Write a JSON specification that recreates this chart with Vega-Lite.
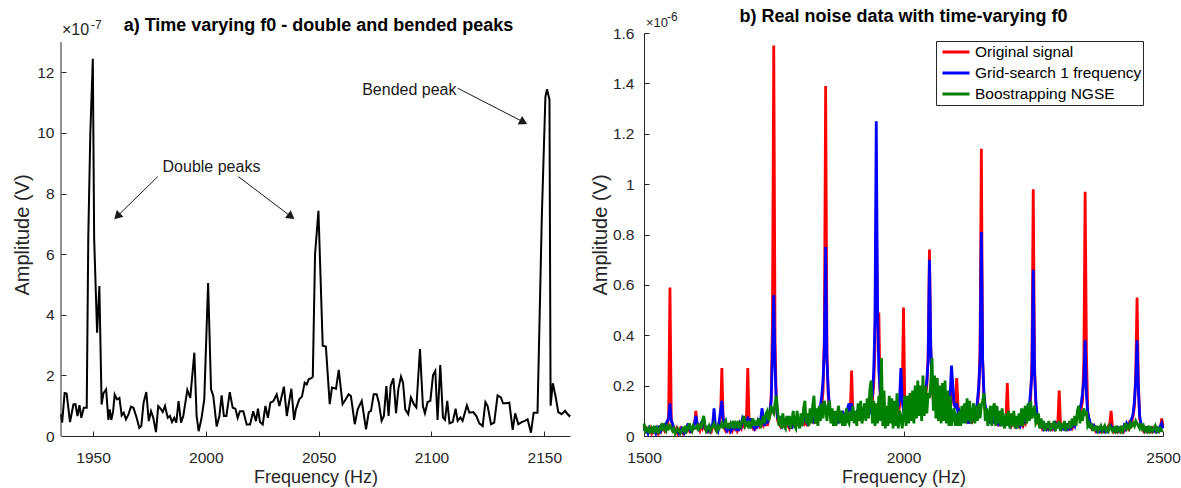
{
"$schema":"https://vega.github.io/schema/vega-lite/v6.json",
"background":"white",
"padding":{"left":12,"top":8,"right":5,"bottom":0},
"bounds":"flush",
"spacing":74,
"config":{
"view":{"stroke":null},
"font":"Liberation Sans",
"axis":{"domainColor":"#262626","tickColor":"#262626","labelColor":"#262626","titleColor":"#262626","labelFont":"Liberation Sans","titleFont":"Liberation Sans","labelFontSize":15.5,"titleFontSize":18,"titleFontWeight":"normal","grid":false,"tickSize":-5,"labelFlush":false,"labelOverlap":false},
"axisX":{"labelPadding":19,"titlePadding":3,"titleFontSize":18,"format":"d"},
"axisY":{"labelPadding":12,"titlePadding":4,"titleFontSize":20},
"title":{"font":"Liberation Sans","fontSize":18,"fontWeight":"bold","color":"#000000","anchor":"middle","frame":"group","baseline":"alphabetic"}
},
"datasets":{
"L":[{"f":1935.8,"v":0.72},{"f":1936.3,"v":0.44},{"f":1937.4,"v":1.42},{"f":1938.3,"v":1.4},{"f":1939.8,"v":0.46},{"f":1941.3,"v":1.04},{"f":1942.2,"v":1.05},{"f":1943.1,"v":0.66},{"f":1944,"v":1.02},{"f":1944.8,"v":0.6},{"f":1945.9,"v":0.93},{"f":1947.2,"v":0.93},{"f":1947.9,"v":6.6},{"f":1948.8,"v":10},{"f":1949.9,"v":12.45},{"f":1950.5,"v":6.5},{"f":1951.8,"v":3.41},{"f":1952.8,"v":4.95},{"f":1953.8,"v":1.04},{"f":1954.6,"v":1.41},{"f":1955.8,"v":1.54},{"f":1956.8,"v":0.53},{"f":1957.4,"v":0.88},{"f":1958.1,"v":0.53},{"f":1958.9,"v":0.82},{"f":1959.6,"v":1.37},{"f":1960.6,"v":1.21},{"f":1961.7,"v":1.26},{"f":1962.7,"v":0.68},{"f":1963.6,"v":0.77},{"f":1964.6,"v":0.55},{"f":1965.7,"v":0.71},{"f":1966.8,"v":0.97},{"f":1967.9,"v":0.93},{"f":1969.1,"v":0.66},{"f":1970.5,"v":0.27},{"f":1971.4,"v":0.33},{"f":1972.4,"v":1.1},{"f":1973.6,"v":1.45},{"f":1974.7,"v":0.49},{"f":1975.7,"v":0.82},{"f":1976.7,"v":0.6},{"f":1977.9,"v":0.13},{"f":1978.9,"v":0.99},{"f":1980,"v":0.9},{"f":1980.9,"v":0.79},{"f":1981.9,"v":0.99},{"f":1983.1,"v":0.6},{"f":1984.1,"v":0.66},{"f":1985,"v":0.46},{"f":1986,"v":0.6},{"f":1986.9,"v":0.44},{"f":1987.9,"v":1.15},{"f":1989,"v":0.44},{"f":1990,"v":0.66},{"f":1991.8,"v":1.52},{"f":1993.1,"v":1.26},{"f":1994.9,"v":2.75},{"f":1995.9,"v":0.66},{"f":1996.8,"v":0.16},{"f":1998,"v":0.55},{"f":1999.3,"v":1.21},{"f":2001,"v":5.05},{"f":2002.3,"v":1.54},{"f":2003.3,"v":1.32},{"f":2004.8,"v":0.31},{"f":2006,"v":0.66},{"f":2007,"v":1.34},{"f":2008,"v":0.66},{"f":2009.1,"v":0.66},{"f":2010.6,"v":1.45},{"f":2011.9,"v":0.93},{"f":2013.1,"v":0.9},{"f":2014.1,"v":0.6},{"f":2015.1,"v":0.82},{"f":2016.6,"v":0.82},{"f":2018.1,"v":0.38},{"f":2019.6,"v":0.38},{"f":2021,"v":0.82},{"f":2022.2,"v":0.49},{"f":2023.1,"v":0.9},{"f":2024,"v":0.46},{"f":2025.2,"v":0.38},{"f":2026.4,"v":0.99},{"f":2027.5,"v":0.6},{"f":2028.6,"v":1.1},{"f":2029.9,"v":1.15},{"f":2031.4,"v":1.37},{"f":2032.6,"v":0.99},{"f":2034.6,"v":1.63},{"f":2035.9,"v":0.66},{"f":2036.7,"v":1.04},{"f":2037.9,"v":1.56},{"f":2039.1,"v":0.53},{"f":2039.9,"v":0.88},{"f":2041.4,"v":1.21},{"f":2042.6,"v":1.3},{"f":2043.8,"v":1.76},{"f":2044.7,"v":1.7},{"f":2045.6,"v":1.87},{"f":2047,"v":1.92},{"f":2047.4,"v":1.96},{"f":2048.4,"v":6},{"f":2049.9,"v":7.43},{"f":2051.8,"v":2.98},{"f":2053.2,"v":2.95},{"f":2054.9,"v":1.05},{"f":2055.9,"v":1.6},{"f":2057.7,"v":1.56},{"f":2058.9,"v":2.18},{"f":2060.6,"v":1.05},{"f":2062,"v":1.21},{"f":2063.3,"v":1.38},{"f":2064.3,"v":1.32},{"f":2066,"v":0.39},{"f":2067.3,"v":0.88},{"f":2069.1,"v":1.16},{"f":2071,"v":0.22},{"f":2072.2,"v":0.79},{"f":2073.2,"v":0.83},{"f":2074.4,"v":1.38},{"f":2075.7,"v":1.38},{"f":2076.7,"v":1.1},{"f":2077.9,"v":0.5},{"f":2078.9,"v":0.66},{"f":2080,"v":1.65},{"f":2081,"v":0.66},{"f":2081.9,"v":1.65},{"f":2083.1,"v":1.9},{"f":2084.3,"v":0.75},{"f":2085.3,"v":1.54},{"f":2086.5,"v":1.96},{"f":2087.4,"v":1.76},{"f":2088.4,"v":0.88},{"f":2089.7,"v":0.72},{"f":2090.9,"v":1.27},{"f":2092.2,"v":1.05},{"f":2093.3,"v":0.94},{"f":2094.9,"v":2.87},{"f":2096.2,"v":0.99},{"f":2097.1,"v":0.75},{"f":2098.3,"v":1.12},{"f":2099.5,"v":1.16},{"f":2100.7,"v":2.01},{"f":2101.7,"v":2.15},{"f":2102.7,"v":0.53},{"f":2103.9,"v":2.34},{"f":2105.1,"v":0.61},{"f":2106,"v":0.53},{"f":2107,"v":1.16},{"f":2108,"v":0.42},{"f":2109.4,"v":0.46},{"f":2110.7,"v":0.9},{"f":2111.6,"v":0.5},{"f":2112.8,"v":0.61},{"f":2113.8,"v":0.5},{"f":2115.7,"v":1.01},{"f":2116.8,"v":0.77},{"f":2118.5,"v":0.79},{"f":2119.9,"v":0.66},{"f":2121.2,"v":0.42},{"f":2122.7,"v":0.33},{"f":2123.9,"v":1.12},{"f":2124.9,"v":0.99},{"f":2126.4,"v":0.39},{"f":2127.8,"v":0.44},{"f":2129.3,"v":1.34},{"f":2130.8,"v":1.27},{"f":2131.7,"v":1.08},{"f":2133,"v":1.08},{"f":2134.5,"v":1.1},{"f":2136,"v":0.2},{"f":2137.1,"v":0.75},{"f":2138.5,"v":0.39},{"f":2140,"v":0.46},{"f":2141.4,"v":0.5},{"f":2142.6,"v":0.55},{"f":2144.1,"v":0.11},{"f":2145.3,"v":0.77},{"f":2147,"v":0.77},{"f":2148.9,"v":7.2},{"f":2150.5,"v":11.2},{"f":2151.2,"v":11.44},{"f":2152.3,"v":11.1},{"f":2152.8,"v":1},{"f":2153.8,"v":1.74},{"f":2155.1,"v":1.27},{"f":2156.2,"v":0.79},{"f":2157.7,"v":0.72},{"f":2159.2,"v":0.83},{"f":2160,"v":0.75},{"f":2161.1,"v":0.66},{"f":2161.4,"v":0.7}],
"R":[
{"f":1500,"r":0.04,"b":0.02,"g":0.05},{"f":1502.5,"r":0.02,"b":0.03,"g":0.02},{"f":1505,"r":0.03,"b":0.02,"g":0.03},{"f":1507.5,"r":0.02,"b":0.01,"g":0.02},{"f":1510,"r":0.02,"b":0.03,"g":0.03},{"f":1512.5,"r":0.03,"b":0.02,"g":0.01},{"f":1515,"r":0.01,"b":0.02,"g":0.03},{"f":1517.5,"r":0.02,"b":0.03,"g":0.02},{"f":1520,"r":0.03,"b":0.02,"g":0.04},{"f":1522.5,"r":0.02,"b":0.01,"g":0.02},
{"f":1525,"r":0.02,"b":0.03,"g":0.03},{"f":1527.5,"r":0.01,"b":0.02,"g":0.01},{"f":1530,"r":0.03,"b":0.04,"g":0.03},{"f":1532.5,"r":0.02,"b":0.02,"g":0.04},{"f":1535,"r":0.04,"b":0.03,"g":0.02},{"f":1537.5,"r":0.03,"b":0.04,"g":0.05},{"f":1540,"r":0.02,"b":0.03,"g":0.03},{"f":1542.5,"r":0.03,"b":0.05,"g":0.02},{"f":1545,"r":0.04,"b":0.06,"g":0.04},{"f":1547.5,"r":0.08,"b":0.07,"g":0.03},
{"f":1550,"r":0.59,"b":0.13,"g":0.04},{"f":1552.5,"r":0.07,"b":0.06,"g":0.03},{"f":1555,"r":0.04,"b":0.05,"g":0.02},{"f":1557.5,"r":0.02,"b":0.03,"g":0.03},{"f":1560,"r":0.02,"b":0.02,"g":0.01},{"f":1562.5,"r":0.03,"b":0.02,"g":0.02},{"f":1565,"r":0.01,"b":0.02,"g":0.03},{"f":1567.5,"r":0.02,"b":0.01,"g":0.02},{"f":1570,"r":0.03,"b":0.02,"g":0.01},{"f":1572.5,"r":0.02,"b":0.03,"g":0.02},
{"f":1575,"r":0.01,"b":0.02,"g":0.03},{"f":1577.5,"r":0.02,"b":0.01,"g":0.02},{"f":1580,"r":0.03,"b":0.02,"g":0.04},{"f":1582.5,"r":0.02,"b":0.03,"g":0.02},{"f":1585,"r":0.03,"b":0.05,"g":0.03},{"f":1587.5,"r":0.02,"b":0.03,"g":0.05},{"f":1590,"r":0.03,"b":0.02,"g":0.03},{"f":1592.5,"r":0.02,"b":0.03,"g":0.02},{"f":1595,"r":0.04,"b":0.03,"g":0.04},{"f":1597.5,"r":0.05,"b":0.05,"g":0.03},
{"f":1600,"r":0.1,"b":0.08,"g":0.03},{"f":1602.5,"r":0.04,"b":0.05,"g":0.04},{"f":1605,"r":0.03,"b":0.03,"g":0.02},{"f":1607.5,"r":0.02,"b":0.04,"g":0.05},{"f":1610,"r":0.04,"b":0.05,"g":0.03},{"f":1612.5,"r":0.03,"b":0.04,"g":0.06},{"f":1615,"r":0.05,"b":0.07,"g":0.08},{"f":1617.5,"r":0.03,"b":0.04,"g":0.04},{"f":1620,"r":0.02,"b":0.03,"g":0.02},{"f":1622.5,"r":0.03,"b":0.02,"g":0.03},
{"f":1625,"r":0.02,"b":0.03,"g":0.04},{"f":1627.5,"r":0.03,"b":0.02,"g":0.02},{"f":1630,"r":0.02,"b":0.04,"g":0.03},{"f":1632.5,"r":0.04,"b":0.05,"g":0.04},{"f":1635,"r":0.06,"b":0.11,"g":0.05},{"f":1637.5,"r":0.03,"b":0.04,"g":0.03},{"f":1640,"r":0.02,"b":0.03,"g":0.02},{"f":1642.5,"r":0.03,"b":0.02,"g":0.04},{"f":1645,"r":0.05,"b":0.06,"g":0.03},{"f":1647.5,"r":0.08,"b":0.1,"g":0.04},
{"f":1650,"r":0.27,"b":0.14,"g":0.05},{"f":1652.5,"r":0.06,"b":0.07,"g":0.03},{"f":1655,"r":0.03,"b":0.04,"g":0.05},{"f":1657.5,"r":0.02,"b":0.03,"g":0.06},{"f":1660,"r":0.03,"b":0.02,"g":0.03},{"f":1662.5,"r":0.04,"b":0.03,"g":0.05},{"f":1665,"r":0.02,"b":0.04,"g":0.03},{"f":1667.5,"r":0.03,"b":0.02,"g":0.05},{"f":1670,"r":0.02,"b":0.03,"g":0.04},{"f":1672.5,"r":0.04,"b":0.03,"g":0.06},
{"f":1675,"r":0.03,"b":0.05,"g":0.03},{"f":1677.5,"r":0.04,"b":0.03,"g":0.05},{"f":1680,"r":0.02,"b":0.04,"g":0.04},{"f":1682.5,"r":0.03,"b":0.02,"g":0.06},{"f":1685,"r":0.04,"b":0.05,"g":0.03},{"f":1687.5,"r":0.03,"b":0.04,"g":0.05},{"f":1690,"r":0.05,"b":0.07,"g":0.06},{"f":1692.5,"r":0.04,"b":0.06,"g":0.08},{"f":1695,"r":0.07,"b":0.05,"g":0.04},{"f":1697.5,"r":0.08,"b":0.06,"g":0.05},
{"f":1700,"r":0.27,"b":0.07,"g":0.04},{"f":1702.5,"r":0.05,"b":0.06,"g":0.06},{"f":1705,"r":0.07,"b":0.05,"g":0.03},{"f":1707.5,"r":0.04,"b":0.07,"g":0.05},{"f":1710,"r":0.03,"b":0.04,"g":0.07},{"f":1712.5,"r":0.04,"b":0.03,"g":0.04},{"f":1715,"r":0.03,"b":0.05,"g":0.06},{"f":1717.5,"r":0.04,"b":0.03,"g":0.04},{"f":1720,"r":0.05,"b":0.06,"g":0.07},{"f":1722.5,"r":0.04,"b":0.05,"g":0.05},
{"f":1725,"r":0.06,"b":0.07,"g":0.04},{"f":1727.5,"r":0.05,"b":0.11,"g":0.06},{"f":1730,"r":0.04,"b":0.06,"g":0.08},{"f":1732.5,"r":0.05,"b":0.04,"g":0.05},{"f":1735,"r":0.06,"b":0.08,"g":0.09},{"f":1737.5,"r":0.04,"b":0.05,"g":0.1},{"f":1740,"r":0.06,"b":0.07,"g":0.06},{"f":1742.5,"r":0.08,"b":0.09,"g":0.08},{"f":1745,"r":0.15,"b":0.14,"g":0.12},{"f":1747.5,"r":0.45,"b":0.32,"g":0.1},
{"f":1750,"r":1.55,"b":0.56,"g":0.09},{"f":1752.5,"r":0.38,"b":0.28,"g":0.13},{"f":1755,"r":0.12,"b":0.13,"g":0.16},{"f":1757.5,"r":0.06,"b":0.07,"g":0.1},{"f":1760,"r":0.05,"b":0.06,"g":0.04},{"f":1762.5,"r":0.04,"b":0.05,"g":0.08},{"f":1765,"r":0.06,"b":0.04,"g":0.03},{"f":1767.5,"r":0.05,"b":0.07,"g":0.09},{"f":1770,"r":0.04,"b":0.05,"g":0.04},{"f":1772.5,"r":0.06,"b":0.04,"g":0.03},
{"f":1775,"r":0.05,"b":0.06,"g":0.08},{"f":1777.5,"r":0.04,"b":0.05,"g":0.04},{"f":1780,"r":0.03,"b":0.04,"g":0.08},{"f":1782.5,"r":0.05,"b":0.06,"g":0.03},{"f":1785,"r":0.04,"b":0.03,"g":0.06},{"f":1787.5,"r":0.06,"b":0.05,"g":0.1},{"f":1790,"r":0.05,"b":0.07,"g":0.04},{"f":1792.5,"r":0.04,"b":0.05,"g":0.03},{"f":1795,"r":0.06,"b":0.08,"g":0.1},{"f":1797.5,"r":0.05,"b":0.06,"g":0.05},
{"f":1800,"r":0.07,"b":0.05,"g":0.03},{"f":1802.5,"r":0.05,"b":0.07,"g":0.09},{"f":1805,"r":0.06,"b":0.05,"g":0.04},{"f":1807.5,"r":0.04,"b":0.06,"g":0.11},{"f":1810,"r":0.06,"b":0.08,"g":0.14},{"f":1812.5,"r":0.05,"b":0.06,"g":0.05},{"f":1815,"r":0.07,"b":0.05,"g":0.09},{"f":1817.5,"r":0.05,"b":0.07,"g":0.04},{"f":1820,"r":0.06,"b":0.09,"g":0.11},{"f":1822.5,"r":0.08,"b":0.06,"g":0.05},
{"f":1825,"r":0.06,"b":0.08,"g":0.12},{"f":1827.5,"r":0.07,"b":0.06,"g":0.16},{"f":1830,"r":0.05,"b":0.07,"g":0.05},{"f":1832.5,"r":0.08,"b":0.1,"g":0.11},{"f":1835,"r":0.06,"b":0.08,"g":0.04},{"f":1837.5,"r":0.09,"b":0.11,"g":0.12},{"f":1840,"r":0.08,"b":0.12,"g":0.06},{"f":1842.5,"r":0.12,"b":0.16,"g":0.13},{"f":1845,"r":0.18,"b":0.22,"g":0.07},{"f":1847.5,"r":0.4,"b":0.35,"g":0.14},
{"f":1850,"r":1.39,"b":0.75,"g":0.11},{"f":1852.5,"r":0.32,"b":0.3,"g":0.06},{"f":1855,"r":0.16,"b":0.18,"g":0.12},{"f":1857.5,"r":0.09,"b":0.11,"g":0.14},{"f":1860,"r":0.07,"b":0.09,"g":0.05},{"f":1862.5,"r":0.06,"b":0.08,"g":0.11},{"f":1865,"r":0.08,"b":0.06,"g":0.04},{"f":1867.5,"r":0.06,"b":0.09,"g":0.1},{"f":1870,"r":0.07,"b":0.05,"g":0.04},{"f":1872.5,"r":0.05,"b":0.07,"g":0.09},
{"f":1875,"r":0.08,"b":0.06,"g":0.12},{"f":1877.5,"r":0.06,"b":0.08,"g":0.05},{"f":1880,"r":0.09,"b":0.07,"g":0.1},{"f":1882.5,"r":0.07,"b":0.1,"g":0.04},{"f":1885,"r":0.06,"b":0.08,"g":0.09},{"f":1887.5,"r":0.08,"b":0.06,"g":0.04},{"f":1890,"r":0.07,"b":0.09,"g":0.11},{"f":1892.5,"r":0.09,"b":0.11,"g":0.06},{"f":1895,"r":0.12,"b":0.13,"g":0.05},{"f":1897.5,"r":0.1,"b":0.09,"g":0.1},
{"f":1900,"r":0.26,"b":0.13,"g":0.06},{"f":1902.5,"r":0.08,"b":0.07,"g":0.12},{"f":1905,"r":0.06,"b":0.09,"g":0.05},{"f":1907.5,"r":0.08,"b":0.06,"g":0.1},{"f":1910,"r":0.07,"b":0.09,"g":0.04},{"f":1912.5,"r":0.1,"b":0.08,"g":0.13},{"f":1915,"r":0.08,"b":0.11,"g":0.06},{"f":1917.5,"r":0.06,"b":0.09,"g":0.14},{"f":1920,"r":0.09,"b":0.07,"g":0.05},{"f":1922.5,"r":0.08,"b":0.1,"g":0.08},
{"f":1925,"r":0.11,"b":0.09,"g":0.13},{"f":1927.5,"r":0.09,"b":0.12,"g":0.06},{"f":1930,"r":0.1,"b":0.08,"g":0.15},{"f":1932.5,"r":0.08,"b":0.11,"g":0.07},{"f":1935,"r":0.12,"b":0.1,"g":0.18},{"f":1937.5,"r":0.1,"b":0.13,"g":0.22},{"f":1940,"r":0.14,"b":0.16,"g":0.05},{"f":1942.5,"r":0.2,"b":0.25,"g":0.14},{"f":1945,"r":0.35,"b":0.45,"g":0.04},{"f":1947.5,"r":0.9,"b":1.25,"g":0.13},
{"f":1950,"r":0.45,"b":0.5,"g":0.05},{"f":1952.5,"r":0.49,"b":0.26,"g":0.16},{"f":1955,"r":0.15,"b":0.18,"g":0.06},{"f":1957.5,"r":0.12,"b":0.14,"g":0.31},{"f":1960,"r":0.1,"b":0.09,"g":0.04},{"f":1962.5,"r":0.07,"b":0.08,"g":0.18},{"f":1965,"r":0.09,"b":0.11,"g":0.03},{"f":1967.5,"r":0.06,"b":0.08,"g":0.12},{"f":1970,"r":0.1,"b":0.07,"g":0.04},{"f":1972.5,"r":0.08,"b":0.1,"g":0.16},
{"f":1975,"r":0.06,"b":0.08,"g":0.05},{"f":1977.5,"r":0.09,"b":0.07,"g":0.15},{"f":1980,"r":0.07,"b":0.09,"g":0.03},{"f":1982.5,"r":0.1,"b":0.08,"g":0.14},{"f":1985,"r":0.08,"b":0.11,"g":0.04},{"f":1987.5,"r":0.11,"b":0.09,"g":0.17},{"f":1990,"r":0.09,"b":0.12,"g":0.03},{"f":1992.5,"r":0.12,"b":0.15,"g":0.1},{"f":1995,"r":0.14,"b":0.27,"g":0.08},{"f":1997.5,"r":0.16,"b":0.14,"g":0.03},
{"f":2000,"r":0.51,"b":0.1,"g":0.08},{"f":2002.5,"r":0.12,"b":0.08,"g":0.16},{"f":2005,"r":0.08,"b":0.1,"g":0.04},{"f":2007.5,"r":0.1,"b":0.09,"g":0.16},{"f":2010,"r":0.07,"b":0.11,"g":0.05},{"f":2012.5,"r":0.09,"b":0.08,"g":0.17},{"f":2015,"r":0.11,"b":0.1,"g":0.06},{"f":2017.5,"r":0.08,"b":0.12,"g":0.18},{"f":2020,"r":0.1,"b":0.09,"g":0.05},{"f":2022.5,"r":0.12,"b":0.11,"g":0.2},
{"f":2025,"r":0.09,"b":0.13,"g":0.07},{"f":2027.5,"r":0.11,"b":0.1,"g":0.22},{"f":2030,"r":0.13,"b":0.12,"g":0.08},{"f":2032.5,"r":0.1,"b":0.14,"g":0.2},{"f":2035,"r":0.12,"b":0.11,"g":0.06},{"f":2037.5,"r":0.14,"b":0.13,"g":0.24},{"f":2040,"r":0.12,"b":0.15,"g":0.08},{"f":2042.5,"r":0.16,"b":0.18,"g":0.2},{"f":2045,"r":0.2,"b":0.22,"g":0.09},{"f":2047.5,"r":0.32,"b":0.3,"g":0.17},
{"f":2050,"r":0.74,"b":0.7,"g":0.15},{"f":2052.5,"r":0.35,"b":0.36,"g":0.21},{"f":2055,"r":0.2,"b":0.2,"g":0.31},{"f":2057.5,"r":0.14,"b":0.16,"g":0.1},{"f":2060,"r":0.12,"b":0.14,"g":0.24},{"f":2062.5,"r":0.1,"b":0.12,"g":0.07},{"f":2065,"r":0.13,"b":0.11,"g":0.23},{"f":2067.5,"r":0.11,"b":0.13,"g":0.06},{"f":2070,"r":0.14,"b":0.12,"g":0.2},{"f":2072.5,"r":0.12,"b":0.15,"g":0.05},
{"f":2075,"r":0.1,"b":0.13,"g":0.21},{"f":2077.5,"r":0.13,"b":0.11,"g":0.06},{"f":2080,"r":0.11,"b":0.14,"g":0.22},{"f":2082.5,"r":0.14,"b":0.12,"g":0.05},{"f":2085,"r":0.12,"b":0.15,"g":0.18},{"f":2087.5,"r":0.15,"b":0.13,"g":0.04},{"f":2090,"r":0.13,"b":0.17,"g":0.16},{"f":2092.5,"r":0.18,"b":0.28,"g":0.04},{"f":2095,"r":0.16,"b":0.2,"g":0.08},{"f":2097.5,"r":0.12,"b":0.13,"g":0.11},
{"f":2100,"r":0.14,"b":0.11,"g":0.04},{"f":2102.5,"r":0.23,"b":0.13,"g":0.09},{"f":2105,"r":0.12,"b":0.09,"g":0.04},{"f":2107.5,"r":0.08,"b":0.1,"g":0.1},{"f":2110,"r":0.1,"b":0.08,"g":0.04},{"f":2112.5,"r":0.07,"b":0.09,"g":0.12},{"f":2115,"r":0.09,"b":0.07,"g":0.05},{"f":2117.5,"r":0.06,"b":0.08,"g":0.13},{"f":2120,"r":0.08,"b":0.06,"g":0.05},{"f":2122.5,"r":0.06,"b":0.08,"g":0.15},
{"f":2125,"r":0.07,"b":0.05,"g":0.06},{"f":2127.5,"r":0.05,"b":0.07,"g":0.14},{"f":2130,"r":0.07,"b":0.06,"g":0.05},{"f":2132.5,"r":0.06,"b":0.08,"g":0.08},{"f":2135,"r":0.08,"b":0.07,"g":0.13},{"f":2137.5,"r":0.07,"b":0.09,"g":0.05},{"f":2140,"r":0.09,"b":0.1,"g":0.12},{"f":2142.5,"r":0.12,"b":0.14,"g":0.06},{"f":2145,"r":0.18,"b":0.2,"g":0.13},{"f":2147.5,"r":0.34,"b":0.3,"g":0.07},
{"f":2150,"r":1.14,"b":0.81,"g":0.12},{"f":2152.5,"r":0.3,"b":0.3,"g":0.14},{"f":2155,"r":0.15,"b":0.17,"g":0.17},{"f":2157.5,"r":0.1,"b":0.12,"g":0.06},{"f":2160,"r":0.08,"b":0.09,"g":0.11},{"f":2162.5,"r":0.06,"b":0.08,"g":0.04},{"f":2165,"r":0.07,"b":0.06,"g":0.09},{"f":2167.5,"r":0.05,"b":0.07,"g":0.12},{"f":2170,"r":0.07,"b":0.05,"g":0.04},{"f":2172.5,"r":0.06,"b":0.08,"g":0.11},
{"f":2175,"r":0.08,"b":0.06,"g":0.13},{"f":2177.5,"r":0.06,"b":0.07,"g":0.04},{"f":2180,"r":0.05,"b":0.06,"g":0.12},{"f":2182.5,"r":0.07,"b":0.05,"g":0.05},{"f":2185,"r":0.05,"b":0.07,"g":0.1},{"f":2187.5,"r":0.06,"b":0.05,"g":0.04},{"f":2190,"r":0.04,"b":0.06,"g":0.11},{"f":2192.5,"r":0.06,"b":0.04,"g":0.05},{"f":2195,"r":0.05,"b":0.06,"g":0.03},{"f":2197.5,"r":0.07,"b":0.05,"g":0.09},
{"f":2200,"r":0.21,"b":0.06,"g":0.04},{"f":2202.5,"r":0.06,"b":0.05,"g":0.1},{"f":2205,"r":0.05,"b":0.04,"g":0.03},{"f":2207.5,"r":0.04,"b":0.06,"g":0.09},{"f":2210,"r":0.06,"b":0.05,"g":0.04},{"f":2212.5,"r":0.05,"b":0.07,"g":0.1},{"f":2215,"r":0.04,"b":0.05,"g":0.03},{"f":2217.5,"r":0.06,"b":0.04,"g":0.08},{"f":2220,"r":0.05,"b":0.06,"g":0.03},{"f":2222.5,"r":0.04,"b":0.05,"g":0.09},
{"f":2225,"r":0.06,"b":0.04,"g":0.04},{"f":2227.5,"r":0.05,"b":0.06,"g":0.11},{"f":2230,"r":0.04,"b":0.05,"g":0.04},{"f":2232.5,"r":0.06,"b":0.07,"g":0.1},{"f":2235,"r":0.05,"b":0.06,"g":0.12},{"f":2237.5,"r":0.07,"b":0.08,"g":0.05},{"f":2240,"r":0.08,"b":0.1,"g":0.13},{"f":2242.5,"r":0.1,"b":0.12,"g":0.06},{"f":2245,"r":0.15,"b":0.18,"g":0.14},{"f":2247.5,"r":0.3,"b":0.25,"g":0.07},
{"f":2250,"r":0.98,"b":0.66,"g":0.09},{"f":2252.5,"r":0.28,"b":0.25,"g":0.12},{"f":2255,"r":0.12,"b":0.14,"g":0.05},{"f":2257.5,"r":0.07,"b":0.08,"g":0.06},{"f":2260,"r":0.05,"b":0.06,"g":0.09},{"f":2262.5,"r":0.04,"b":0.05,"g":0.03},{"f":2265,"r":0.05,"b":0.04,"g":0.07},{"f":2267.5,"r":0.03,"b":0.05,"g":0.03},{"f":2270,"r":0.04,"b":0.03,"g":0.06},{"f":2272.5,"r":0.03,"b":0.04,"g":0.02},
{"f":2275,"r":0.04,"b":0.03,"g":0.05},{"f":2277.5,"r":0.03,"b":0.05,"g":0.03},{"f":2280,"r":0.04,"b":0.03,"g":0.06},{"f":2282.5,"r":0.03,"b":0.04,"g":0.02},{"f":2285,"r":0.05,"b":0.03,"g":0.05},{"f":2287.5,"r":0.03,"b":0.04,"g":0.03},{"f":2290,"r":0.04,"b":0.03,"g":0.06},{"f":2292.5,"r":0.03,"b":0.05,"g":0.02},{"f":2295,"r":0.05,"b":0.04,"g":0.05},{"f":2297.5,"r":0.06,"b":0.05,"g":0.03},
{"f":2300,"r":0.18,"b":0.05,"g":0.06},{"f":2302.5,"r":0.05,"b":0.04,"g":0.02},{"f":2305,"r":0.03,"b":0.04,"g":0.05},{"f":2307.5,"r":0.04,"b":0.03,"g":0.03},{"f":2310,"r":0.03,"b":0.04,"g":0.06},{"f":2312.5,"r":0.04,"b":0.03,"g":0.02},{"f":2315,"r":0.03,"b":0.05,"g":0.05},{"f":2317.5,"r":0.04,"b":0.03,"g":0.03},{"f":2320,"r":0.03,"b":0.04,"g":0.06},{"f":2322.5,"r":0.04,"b":0.03,"g":0.03},
{"f":2325,"r":0.03,"b":0.04,"g":0.07},{"f":2327.5,"r":0.04,"b":0.05,"g":0.04},{"f":2330,"r":0.05,"b":0.04,"g":0.08},{"f":2332.5,"r":0.06,"b":0.07,"g":0.04},{"f":2335,"r":0.07,"b":0.08,"g":0.1},{"f":2337.5,"r":0.08,"b":0.1,"g":0.12},{"f":2340,"r":0.09,"b":0.11,"g":0.05},{"f":2342.5,"r":0.11,"b":0.13,"g":0.1},{"f":2345,"r":0.14,"b":0.17,"g":0.06},{"f":2347.5,"r":0.3,"b":0.22,"g":0.11},
{"f":2350,"r":0.97,"b":0.38,"g":0.08},{"f":2352.5,"r":0.32,"b":0.16,"g":0.1},{"f":2355,"r":0.1,"b":0.09,"g":0.04},{"f":2357.5,"r":0.06,"b":0.07,"g":0.05},{"f":2360,"r":0.04,"b":0.05,"g":0.03},{"f":2362.5,"r":0.03,"b":0.04,"g":0.05},{"f":2365,"r":0.04,"b":0.03,"g":0.02},{"f":2367.5,"r":0.03,"b":0.04,"g":0.04},{"f":2370,"r":0.02,"b":0.03,"g":0.02},{"f":2372.5,"r":0.03,"b":0.02,"g":0.04},
{"f":2375,"r":0.02,"b":0.03,"g":0.02},{"f":2377.5,"r":0.03,"b":0.02,"g":0.03},{"f":2380,"r":0.02,"b":0.03,"g":0.04},{"f":2382.5,"r":0.03,"b":0.02,"g":0.02},{"f":2385,"r":0.02,"b":0.03,"g":0.03},{"f":2387.5,"r":0.03,"b":0.02,"g":0.04},{"f":2390,"r":0.02,"b":0.03,"g":0.02},{"f":2392.5,"r":0.03,"b":0.02,"g":0.03},{"f":2395,"r":0.04,"b":0.03,"g":0.02},{"f":2397.5,"r":0.05,"b":0.03,"g":0.04},
{"f":2400,"r":0.1,"b":0.04,"g":0.03},{"f":2402.5,"r":0.04,"b":0.03,"g":0.02},{"f":2405,"r":0.02,"b":0.03,"g":0.03},{"f":2407.5,"r":0.03,"b":0.02,"g":0.02},{"f":2410,"r":0.02,"b":0.03,"g":0.04},{"f":2412.5,"r":0.03,"b":0.02,"g":0.02},{"f":2415,"r":0.02,"b":0.03,"g":0.03},{"f":2417.5,"r":0.03,"b":0.02,"g":0.02},{"f":2420,"r":0.02,"b":0.03,"g":0.04},{"f":2422.5,"r":0.03,"b":0.02,"g":0.02},
{"f":2425,"r":0.02,"b":0.04,"g":0.03},{"f":2427.5,"r":0.03,"b":0.03,"g":0.05},{"f":2430,"r":0.04,"b":0.05,"g":0.03},{"f":2432.5,"r":0.03,"b":0.04,"g":0.04},{"f":2435,"r":0.05,"b":0.04,"g":0.03},{"f":2437.5,"r":0.04,"b":0.06,"g":0.05},{"f":2440,"r":0.06,"b":0.07,"g":0.04},{"f":2442.5,"r":0.08,"b":0.09,"g":0.05},{"f":2445,"r":0.12,"b":0.14,"g":0.04},{"f":2447.5,"r":0.25,"b":0.22,"g":0.06},
{"f":2450,"r":0.55,"b":0.38,"g":0.05},{"f":2452.5,"r":0.21,"b":0.19,"g":0.04},{"f":2455,"r":0.07,"b":0.08,"g":0.03},{"f":2457.5,"r":0.04,"b":0.05,"g":0.05},{"f":2460,"r":0.03,"b":0.04,"g":0.03},{"f":2462.5,"r":0.02,"b":0.03,"g":0.04},{"f":2465,"r":0.03,"b":0.02,"g":0.02},{"f":2467.5,"r":0.02,"b":0.03,"g":0.03},{"f":2470,"r":0.03,"b":0.02,"g":0.02},{"f":2472.5,"r":0.02,"b":0.03,"g":0.04},
{"f":2475,"r":0.03,"b":0.02,"g":0.02},{"f":2477.5,"r":0.02,"b":0.03,"g":0.03},{"f":2480,"r":0.03,"b":0.02,"g":0.02},{"f":2482.5,"r":0.02,"b":0.03,"g":0.03},{"f":2485,"r":0.03,"b":0.02,"g":0.04},{"f":2487.5,"r":0.02,"b":0.03,"g":0.02},{"f":2490,"r":0.03,"b":0.02,"g":0.03},{"f":2492.5,"r":0.02,"b":0.03,"g":0.02},{"f":2495,"r":0.03,"b":0.04,"g":0.03},{"f":2497.5,"r":0.07,"b":0.05,"g":0.02},
{"f":2500,"r":0.04,"b":0.03,"g":0.02}
]
},
"hconcat":[
{
"width":509,"height":403,
"title":{"text":"a) Time varying f0 - double and bended peaks","offset":-16,"dx":3},
"layer":[
{"data":{"name":"L"},"mark":{"type":"line","color":"#000000","strokeWidth":2},
"encoding":{
"x":{"field":"f","type":"quantitative","scale":{"domain":[1935.8,2161.4],"nice":false,"zero":false},"axis":{"title":"Frequency (Hz)","values":[1950,2000,2050,2100,2150]}},
"y":{"field":"v","type":"quantitative","scale":{"domain":[0,13.3],"nice":false},"axis":{"title":"Amplitude (V)","values":[0,2,4,6,8,10,12],"domain":false}}}},
{"data":{"values":[{}]},"mark":{"type":"rule","color":"#262626","strokeWidth":1},"encoding":{"x":{"datum":1935.8},"y":{"datum":0},"y2":{"datum":13}}},
{"data":{"values":[{}]},"mark":{"type":"text","text":"×10","fontSize":16,"align":"left","baseline":"alphabetic","dx":1,"dy":-7,"color":"#262626"},"encoding":{"x":{"datum":1935.8},"y":{"datum":13}}},
{"data":{"values":[{}]},"mark":{"type":"text","text":"-7","fontSize":12,"align":"left","baseline":"alphabetic","dx":30,"dy":-13,"color":"#262626"},"encoding":{"x":{"datum":1935.8},"y":{"datum":13}}},
{"data":{"values":[{}]},"mark":{"type":"text","text":"Double peaks","fontSize":16,"align":"center","baseline":"middle","color":"#1a1a1a"},"encoding":{"x":{"datum":2002.5},"y":{"datum":8.88}}},
{"data":{"values":[{}]},"mark":{"type":"text","text":"Bended peak","fontSize":16,"align":"center","baseline":"middle","color":"#1a1a1a"},"encoding":{"x":{"datum":2090.2},"y":{"datum":11.42}}},
{"data":{"values":[{}]},"mark":{"type":"rule","color":"#1a1a1a","strokeWidth":1},"encoding":{"x":{"datum":1978.7},"y":{"datum":8.56},"x2":{"datum":1960.7},"y2":{"datum":7.25}}},
{"data":{"values":[{}]},"mark":{"type":"rule","color":"#1a1a1a","strokeWidth":1},"encoding":{"x":{"datum":2014.4},"y":{"datum":8.56},"x2":{"datum":2037.8},"y2":{"datum":7.24}}},
{"data":{"values":[{}]},"mark":{"type":"rule","color":"#1a1a1a","strokeWidth":1},"encoding":{"x":{"datum":2111.6},"y":{"datum":11.48},"x2":{"datum":2140.8},"y2":{"datum":10.36}}},
{"data":{"values":[{}]},"mark":{"type":"point","shape":"triangle-right","filled":true,"size":90,"angle":135.7,"color":"#1a1a1a","opacity":1},"encoding":{"x":{"datum":1960.7},"y":{"datum":7.25}}},
{"data":{"values":[{}]},"mark":{"type":"point","shape":"triangle-right","filled":true,"size":90,"angle":37.1,"color":"#1a1a1a","opacity":1},"encoding":{"x":{"datum":2037.8},"y":{"datum":7.24}}},
{"data":{"values":[{}]},"mark":{"type":"point","shape":"triangle-right","filled":true,"size":90,"angle":27.3,"color":"#1a1a1a","opacity":1},"encoding":{"x":{"datum":2140.8},"y":{"datum":10.36}}}
]
},
{
"width":519,"height":403,
"title":{"text":"b) Real noise data with time-varying f0","offset":-15},
"layer":[
{"data":{"name":"R"},"mark":{"type":"line","strokeWidth":2.8},
"encoding":{
"x":{"field":"f","type":"quantitative","scale":{"domain":[1500,2500],"nice":false,"zero":false},"axis":{"title":"Frequency (Hz)","values":[1500,2000,2500]}},
"y":{"field":"r","type":"quantitative","scale":{"domain":[0,1.6],"nice":false},"axis":{"title":"Amplitude (V)","values":[0,0.2,0.4,0.6,0.8,1,1.2,1.4,1.6],"format":".1~f","labelPadding":15,"titlePadding":2}},
"color":{"datum":"Original signal","scale":{"domain":["Original signal","Grid-search 1 frequency","Boostrapping NGSE"],"range":["#ff0000","#0000ff","#008000"]},
"legend":{"orient":"none","legendX":875,"legendY":8,"title":null,"symbolType":"stroke","symbolSize":729,"symbolStrokeWidth":3,"symbolOffset":4,"labelFontSize":15.5,"labelFont":"Liberation Sans","labelColor":"#000000","labelLimit":0,"strokeColor":"#262626","fillColor":"#ffffff","padding":1,"clipHeight":20,"rowPadding":1,"labelOffset":4}}}},
{"data":{"name":"R"},"mark":{"type":"line","strokeWidth":2.8},"encoding":{"x":{"field":"f","type":"quantitative"},"y":{"field":"b","type":"quantitative"},"color":{"datum":"Grid-search 1 frequency"}}},
{"data":{"name":"R"},"mark":{"type":"line","strokeWidth":2.8},"encoding":{"x":{"field":"f","type":"quantitative"},"y":{"field":"g","type":"quantitative"},"color":{"datum":"Boostrapping NGSE"}}},
{"data":{"values":[{}]},"mark":{"type":"text","text":"×10","fontSize":13,"align":"left","baseline":"alphabetic","dx":2,"dy":-6,"color":"#262626"},"encoding":{"x":{"datum":1500},"y":{"datum":1.6}}},
{"data":{"values":[{}]},"mark":{"type":"text","text":"-6","fontSize":12,"align":"left","baseline":"alphabetic","dx":23,"dy":-12,"color":"#262626"},"encoding":{"x":{"datum":1500},"y":{"datum":1.6}}}
]
}
]
}
